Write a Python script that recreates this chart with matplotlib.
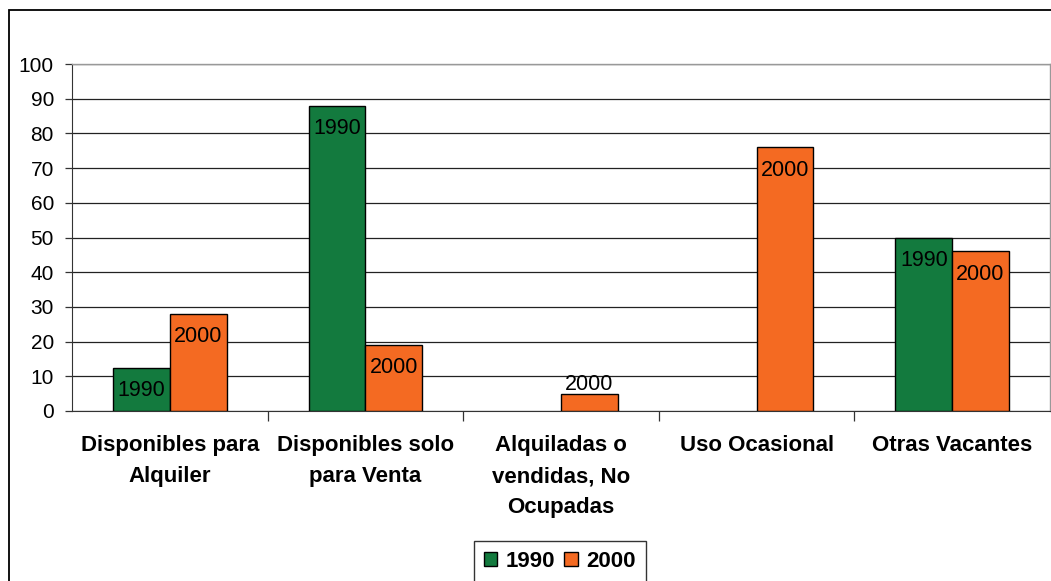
import matplotlib.pyplot as plt
from matplotlib.patches import Rectangle
from matplotlib.ticker import MultipleLocator
import numpy as np

plt.rcParams['font.family'] = ['Liberation Sans', 'DejaVu Sans']

categories = ["Disponibles para\nAlquiler", "Disponibles solo\npara Venta",
              "Alquiladas o\nvendidas, No\nOcupadas", "Uso Ocasional", "Otras Vacantes"]
years = ["1990", "2000"]
vals_1990 = [12.5, 88, 0, 0, 50]
vals_2000 = [28, 19, 5, 76, 46]
colors = ["#137A3E", "#F46A22"]

fig = plt.figure(figsize=(10.51, 5.81), dpi=100)
ax = fig.add_axes([72/1051, 1 - 411/581, (1050 - 72)/1051, (411 - 64)/581])

x = np.arange(len(categories))
w = 0.29
series = [vals_1990, vals_2000]
for i, (vals, yr) in enumerate(zip(series, years)):
    pos = x + (i - 0.5) * w
    lws = [1 if v > 0 else 0 for v in vals]
    bars = ax.bar(pos, vals, w, color=colors[i], edgecolor="black", linewidth=lws,
                  label=yr, zorder=3)
    for b, v in zip(bars, vals):
        if v <= 0:
            continue
        cx = b.get_x() + b.get_width() / 2
        if v < 10:
            ax.annotate(yr, (cx, v), xytext=(0, -1), textcoords="offset points",
                        ha="center", va="bottom", fontsize=15.5, zorder=4)
        else:
            ax.annotate(yr, (cx, v), xytext=(0, -16.5), textcoords="offset points",
                        ha="center", va="center", fontsize=15.5, zorder=4)

ax.set_xlim(-0.5, len(categories) - 0.5)
ax.set_ylim(0, 100)
ax.yaxis.set_major_locator(MultipleLocator(10))
ax.grid(axis="y", color="#222222", linewidth=0.9, zorder=0)
ax.tick_params(axis="y", labelsize=15, length=5, width=0.9, color="#333333", pad=8)

ax.set_xticks(np.arange(len(categories) - 1) + 0.5)
ax.set_xticklabels([])
ax.tick_params(axis="x", which="major", length=7, width=0.9, color="#333333")
ax.set_xticks(x, minor=True)
ax.set_xticklabels(categories, minor=True, fontsize=16, fontweight="bold",
                   linespacing=1.65)
ax.tick_params(axis="x", which="minor", length=0, pad=17)

for s in ["top", "right"]:
    ax.spines[s].set_color("#999999")
    ax.spines[s].set_linewidth(1)
ax.spines["left"].set_color("#333333")
ax.spines["bottom"].set_color("#333333")

leg = ax.legend(loc="upper center", bbox_to_anchor=(560/1051, 1 - 541/581),
                bbox_transform=fig.transFigure, ncol=2, frameon=True, fancybox=False,
                edgecolor="black", prop={"size": 16, "weight": "bold"},
                handlelength=0.6, handleheight=0.6, handletextpad=0.4,
                columnspacing=0.4, borderpad=0.45, borderaxespad=0)
leg.get_frame().set_linewidth(1)

fig.patches.append(Rectangle((9/1051, -0.05), (1060 - 9)/1051, 1 - 10/581 + 0.05,
                             transform=fig.transFigure, fill=False,
                             edgecolor="black", linewidth=1.3))

fig.savefig("out.png", dpi=100)
